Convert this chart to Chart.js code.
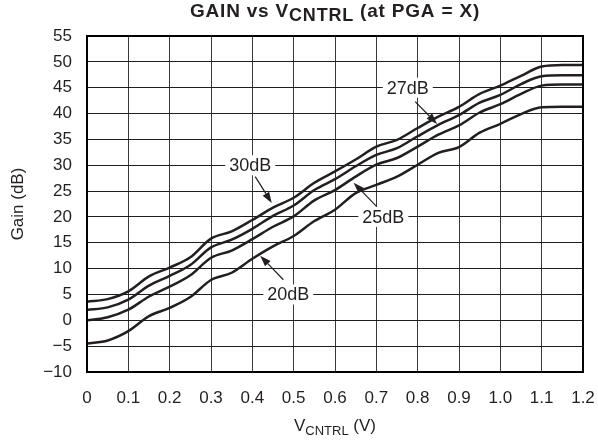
<!DOCTYPE html>
<html>
<head>
<meta charset="utf-8">
<script src="https://cdn.jsdelivr.net/npm/chart.js@4.4.1/dist/chart.umd.min.js"></script>
<style>
  html, body { margin: 0; padding: 0; background: #fff; }
  #wrap { width: 598px; height: 440px; }
</style>
</head>
<body>
<div id="wrap"><canvas id="gainChart"></canvas></div>
<script>
// V_CNTRL (V) sample points
const vCntrl = [0, 0.05, 0.1, 0.15, 0.2, 0.25, 0.3, 0.35, 0.4, 0.45, 0.5, 0.55, 0.6,
                0.65, 0.7, 0.75, 0.8, 0.85, 0.9, 0.95, 1.0, 1.05, 1.1, 1.15, 1.2];

// Gain (dB), one array per PGA setting
const gain30dB = [3.6, 4.1, 5.6, 8.5, 10.2, 12.2, 15.8, 17.2, 19.4, 21.8, 23.7, 26.6, 28.8,
                  31.1, 33.6, 34.9, 37.2, 39.4, 41.3, 43.8, 45.4, 47.3, 49.1, 49.4, 49.4];
const gain27dB = [2.0, 2.5, 4.0, 6.7, 8.6, 10.7, 14.1, 15.6, 17.7, 20.2, 22.2, 25.2, 27.3,
                  29.8, 32.0, 33.3, 35.6, 37.8, 39.7, 42.1, 43.6, 45.7, 47.2, 47.4, 47.4];
const gain25dB = [0.0, 0.6, 2.05, 4.6, 6.5, 8.7, 12.1, 13.5, 15.7, 18.1, 20.1, 23.2, 25.2,
                  27.8, 30.1, 31.4, 33.6, 35.9, 37.7, 40.2, 41.8, 43.8, 45.4, 45.6, 45.6];
const gain20dB = [-4.5, -3.9, -2.1, 0.8, 2.4, 4.5, 7.8, 9.2, 11.9, 14.3, 16.3, 19.2, 21.4,
                  24.6, 26.2, 27.8, 30.1, 32.4, 33.5, 36.3, 38.0, 39.9, 41.2, 41.3, 41.3];

const xTickLabels = ['0', '0.1', '0.2', '0.3', '0.4', '0.5', '0.6', '0.7', '0.8', '0.9', '1.0', '1.1', '1.2'];
const yTickLabels = ['\u221210', '\u22125', '0', '5', '10', '15', '20', '25', '30', '35', '40', '45', '50', '55'];

// curve labels: text centre and arrow (from -> tip), in data units
const curveLabels = [
  { text: '30dB', x: 0.395, y: 30, fromX: 0.407, fromY: 27.8, toX: 0.447, toY: 22.7 },
  { text: '27dB', x: 0.776, y: 45, fromX: 0.794, fromY: 42.3, toX: 0.847, toY: 38.0 },
  { text: '25dB', x: 0.717, y: 20, fromX: 0.701, fromY: 22.0, toX: 0.645, toY: 26.6 },
  { text: '20dB', x: 0.487, y: 5,  fromX: 0.475, fromY: 7.85, toX: 0.419, toY: 12.5 }
];

const FONT = '"Liberation Sans", Arial, Helvetica, sans-serif';
const INK = '#231f20';

const toPoints = ys => vCntrl.map((v, i) => ({ x: v, y: ys[i] }));

const curve = (label, ys) => ({
  label: label,
  data: toPoints(ys),
  borderColor: INK,
  borderWidth: 2.5,
  pointRadius: 0,
  fill: false,
  cubicInterpolationMode: 'monotone'
});

// draws text with a lowered subscript part, centred on cx
function drawSubText(ctx, parts, cx, baseY) {
  let total = 0;
  parts.forEach(p => { ctx.font = p.font; total += ctx.measureText(p.text).width; });
  let x = cx - total / 2;
  parts.forEach(p => {
    ctx.font = p.font;
    ctx.fillText(p.text, x, baseY + (p.dy || 0));
    x += ctx.measureText(p.text).width;
  });
}

const decorations = {
  id: 'decorations',
  afterDatasetsDraw(chart) {
    const { ctx, chartArea, scales } = chart;
    const xs = scales.x, ys = scales.y;
    ctx.save();

    // frame round the plot
    ctx.strokeStyle = '#000';
    ctx.lineWidth = 2;
    ctx.strokeRect(chartArea.left, chartArea.top, chartArea.right - chartArea.left, chartArea.bottom - chartArea.top);

    // curve labels with arrows
    curveLabels.forEach(a => {
      const fx = xs.getPixelForValue(a.fromX), fy = ys.getPixelForValue(a.fromY);
      const tx = xs.getPixelForValue(a.toX), ty = ys.getPixelForValue(a.toY);
      const ang = Math.atan2(ty - fy, tx - fx);
      const head = 11, half = 3.8;
      ctx.strokeStyle = INK;
      ctx.fillStyle = INK;
      ctx.lineWidth = 1.2;
      ctx.beginPath();
      ctx.moveTo(fx, fy);
      ctx.lineTo(tx - Math.cos(ang) * head, ty - Math.sin(ang) * head);
      ctx.stroke();
      ctx.beginPath();
      ctx.moveTo(tx, ty);
      ctx.lineTo(tx - Math.cos(ang) * head - Math.sin(ang) * half, ty - Math.sin(ang) * head + Math.cos(ang) * half);
      ctx.lineTo(tx - Math.cos(ang) * head + Math.sin(ang) * half, ty - Math.sin(ang) * head - Math.cos(ang) * half);
      ctx.closePath();
      ctx.fill();

      const cx = xs.getPixelForValue(a.x), cy = ys.getPixelForValue(a.y);
      ctx.font = '18px ' + FONT;
      const w = ctx.measureText(a.text).width;
      ctx.fillStyle = '#fff';
      ctx.fillRect(cx - w / 2 - 4, cy - 10, w + 8, 20);
      ctx.fillStyle = INK;
      ctx.textAlign = 'center';
      ctx.textBaseline = 'middle';
      ctx.fillText(a.text, cx, cy + 1);
    });

    // chart title and x-axis title (both with CNTRL subscript)
    const mid = (chartArea.left + chartArea.right) / 2;
    ctx.fillStyle = INK;
    ctx.textAlign = 'left';
    ctx.textBaseline = 'alphabetic';
    ctx.letterSpacing = '0.8px';
    drawSubText(ctx, [
      { text: 'GAIN vs V', font: 'bold 19px ' + FONT },
      { text: 'CNTRL', font: 'bold 18px ' + FONT, dy: 4 },
      { text: ' (at PGA = X)', font: 'bold 19px ' + FONT }
    ], mid, 17);
    ctx.letterSpacing = '0px';
    drawSubText(ctx, [
      { text: 'V', font: '17px ' + FONT },
      { text: 'CNTRL', font: '13px ' + FONT, dy: 4 },
      { text: ' (V)', font: '17px ' + FONT }
    ], mid, 431);

    ctx.restore();
  }
};

new Chart(document.getElementById('gainChart'), {
  type: 'line',
  data: {
    datasets: [
      curve('30dB', gain30dB),
      curve('27dB', gain27dB),
      curve('25dB', gain25dB),
      curve('20dB', gain20dB)
    ]
  },
  options: {
    responsive: true,
    maintainAspectRatio: false,
    animation: false,
    layout: { padding: { top: 36, right: 15, left: 0, bottom: 0 } },
    plugins: {
      legend: { display: false },
      tooltip: { enabled: false }
    },
    scales: {
      x: {
        type: 'linear',
        min: 0,
        max: 1.2,
        afterFit: s => {
          s.height = 68;
          // tick padding would otherwise be added to the side margins
          s.paddingLeft = 0;
          s.paddingRight = 0;
        },
        border: { display: false },
        grid: { color: '#3a3a3a', lineWidth: 1, drawTicks: false },
        ticks: {
          stepSize: 0.1,
          autoSkip: false,
          maxRotation: 0,
          padding: 16,
          color: INK,
          font: { size: 17, family: FONT },
          callback: (v, i) => xTickLabels[i]
        }
      },
      y: {
        min: -10,
        max: 55,
        afterFit: s => { s.width = 87; },
        border: { display: false },
        grid: { color: '#1e1e1e', lineWidth: 1, drawTicks: false },
        ticks: {
          stepSize: 5,
          padding: 15,
          color: INK,
          font: { size: 17, family: FONT },
          callback: (v, i) => yTickLabels[i]
        },
        title: {
          display: true,
          text: 'Gain (dB)',
          color: INK,
          font: { size: 17, family: FONT },
          padding: { top: 8, bottom: 0 }
        }
      }
    }
  },
  plugins: [decorations]
});
</script>
</body>
</html>
